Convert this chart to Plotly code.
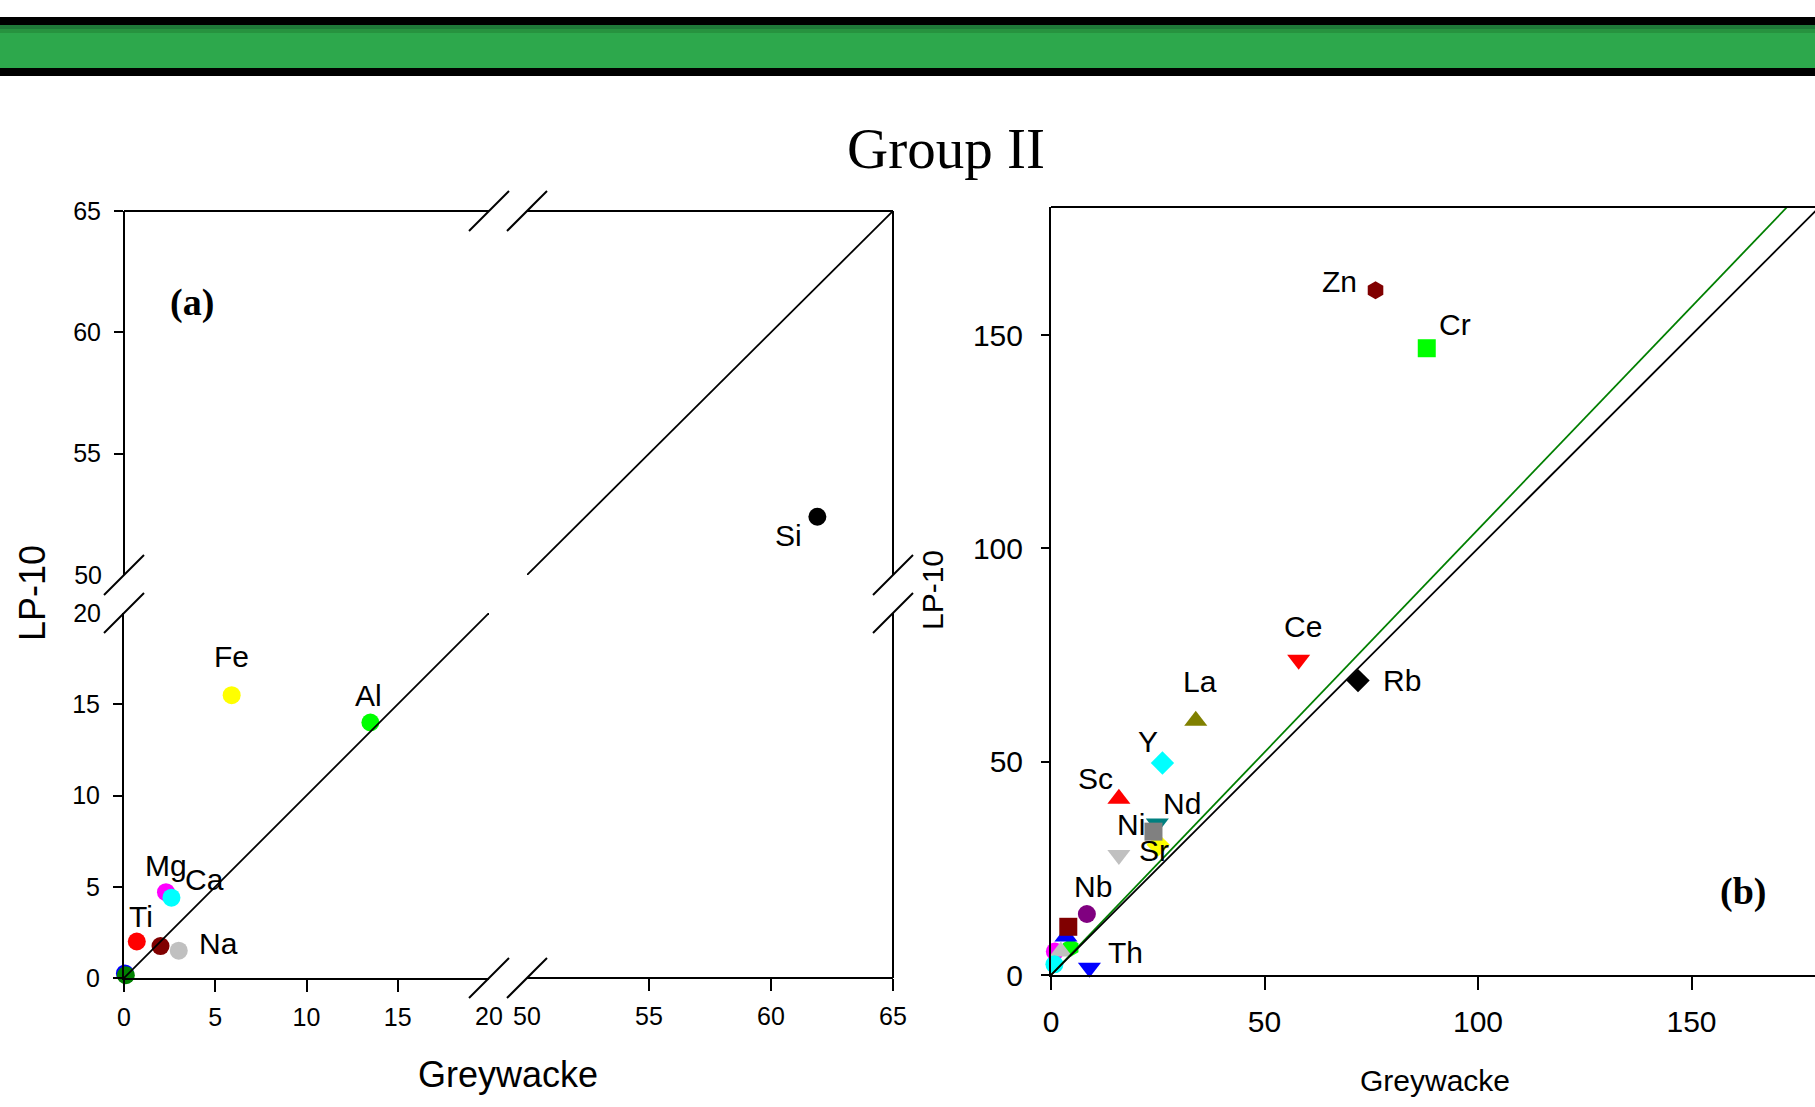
import plotly.graph_objects as go

W, H = 1815, 1107

# ---------------- data ----------------
# Panel (a): major elements, lower segment (0-20)
a_names = ["", "", "Na", "", "Ti", "Mg", "Ca", "Fe", "Al"]
a_x = [0.05, 0.1, 3.0, 2.0, 0.7, 2.3, 2.6, 5.9, 13.5]
a_y = [0.25, 0.15, 1.5, 1.75, 2.0, 4.7, 4.4, 15.5, 14.0]
a_colors = ["#0000FF", "#008000", "#C0C0C0", "#800000", "#FF0000",
            "#FF00FF", "#00FFFF", "#FFFF00", "#00FF00"]

# Panel (a): upper segment (50-65)
a_hi_names = ["Si"]
a_hi_x = [61.9]
a_hi_y = [52.4]
a_hi_colors = ["#000000"]

# 1:1 reference line in panel (a), split by the axis break
a_ref_lo = [0, 20]
a_ref_hi = [50, 65]

# Panel (b): trace elements
b_names = ["Zn", "Cr", "Ce", "Rb", "La", "Y", "Sc", "Nd", "Sr", "Ni", "",
           "Nb", "", "", "", "", "", "", "Th"]
b_x = [76.0, 88.0, 58.0, 71.9, 33.9, 26.1, 15.9, 24.9, 25.1, 24.0, 15.9,
       8.4, 0.9, 4.6, 3.5, 4.05, 2.3, 0.8, 9.0]
b_y = [160.5, 146.9, 73.9, 69.0, 59.6, 49.7, 41.3, 35.5, 30.5, 33.6, 28.1,
       14.3, 5.5, 6.4, 9.0, 11.3, 5.5, 2.5, 1.7]
b_symbols = ["hexagon", "square", "triangle-down", "diamond", "triangle-up",
             "diamond", "triangle-up", "triangle-down", "diamond", "square",
             "triangle-down", "circle", "circle", "hexagon", "triangle-up",
             "square", "triangle-up", "circle", "triangle-down"]
b_colors = ["#800000", "#00FF00", "#FF0000", "#000000", "#808000",
            "#00FFFF", "#FF0000", "#008080", "#FFFF00", "#808080",
            "#C0C0C0", "#800080", "#FF00FF", "#00FF00", "#0000FF",
            "#800000", "#C0C0C0", "#00FFFF", "#0000FF"]

# reference lines in panel (b)
b_ref_x = [0, 180]
b_ref_y = [0, 180]
b_fit_x = [0, 172.4]
b_fit_y = [0, 180]

a_ticks_lo = [0, 5, 10, 15]
a_ticks_hi = [55, 60, 65]
b_ticks = [0, 50, 100, 150]

# ---------------- styling ----------------
a_label_shift = {"Fe": (0, 39), "Al": (-2, 27), "Mg": (0, 27), "Ca": (33, 18),
                 "Ti": (4, 25), "Na": (40, 7), "Si": (-29, -19)}
b_label_shift = {"Zn": (-36, 9), "Cr": (28, 24), "Ce": (4, 33), "Rb": (44, 0),
                 "La": (4, 39), "Y": (-14, 21), "Sc": (-23, 20), "Nd": (25, 20),
                 "Ni": (-22, 7), "Sr": (-4, -6), "Nb": (6, 27), "Th": (36, 15)}
b_sizes = [20 if s.startswith("triangle") else 18 for s in b_symbols]

SANS = "Liberation Sans, Arial, sans-serif"
SERIF = "Liberation Serif, Times New Roman, serif"


def px(x):
    return x / W


def py(y):
    return 1 - y / H


fig = go.Figure()

# panel (a) markers
fig.add_trace(go.Scatter(x=a_x, y=a_y, mode="markers", xaxis="x", yaxis="y",
                         marker=dict(size=18, color=a_colors, symbol="circle",
                                     opacity=1, line=dict(width=0)),
                         cliponaxis=False, hovertext=a_names, showlegend=False))
fig.add_trace(go.Scatter(x=a_hi_x, y=a_hi_y, mode="markers", xaxis="x2", yaxis="y2",
                         marker=dict(size=18, color=a_hi_colors, symbol="circle",
                                     opacity=1, line=dict(width=0)),
                         cliponaxis=False, hovertext=a_hi_names, showlegend=False))
# panel (a) 1:1 lines
fig.add_trace(go.Scatter(x=a_ref_lo, y=a_ref_lo, mode="lines", xaxis="x", yaxis="y",
                         line=dict(color="black", width=1.8), showlegend=False))
fig.add_trace(go.Scatter(x=a_ref_hi, y=a_ref_hi, mode="lines", xaxis="x2", yaxis="y2",
                         line=dict(color="black", width=1.8), showlegend=False))

# panel (b) markers
fig.add_trace(go.Scatter(x=b_x, y=b_y, mode="markers", xaxis="x3", yaxis="y3",
                         marker=dict(size=b_sizes, color=b_colors, symbol=b_symbols,
                                     opacity=1, line=dict(width=0)),
                         cliponaxis=False, hovertext=b_names, showlegend=False))
fig.add_trace(go.Scatter(x=b_fit_x, y=b_fit_y, mode="lines", xaxis="x3", yaxis="y3",
                         line=dict(color="#007F00", width=1.8), showlegend=False))
fig.add_trace(go.Scatter(x=b_ref_x, y=b_ref_y, mode="lines", xaxis="x3", yaxis="y3",
                         line=dict(color="black", width=1.8), showlegend=False))

# empty traces so overlay label axes are created
fig.add_trace(go.Scatter(x=[], y=[], xaxis="x4", yaxis="y", showlegend=False))
fig.add_trace(go.Scatter(x=[], y=[], xaxis="x5", yaxis="y2", showlegend=False))
fig.add_trace(go.Scatter(x=[], y=[], xaxis="x", yaxis="y4", showlegend=False))
fig.add_trace(go.Scatter(x=[], y=[], xaxis="x2", yaxis="y5", showlegend=False))

common = dict(showgrid=False, zeroline=False, showline=True, linecolor="black",
              linewidth=2, ticks="outside", tickwidth=2, tickcolor="black",
              fixedrange=True, automargin=False)
fa = dict(family=SANS, size=25, color="black")
fb = dict(family=SANS, size=30, color="black")
hidden_tick = dict(showgrid=False, zeroline=False, showline=False, ticks="outside",
                   tickwidth=2, tickcolor="rgba(0,0,0,0)", fixedrange=True,
                   automargin=False)

x_lo_dom = [px(124), px(489)]
x_hi_dom = [px(527), px(893)]
y_lo_dom = [py(978), py(613)]
y_hi_dom = [py(575), py(211)]

fig.update_layout(
    template="none",
    width=W, height=H, margin=dict(l=0, r=0, t=0, b=0, pad=0, autoexpand=False),
    paper_bgcolor="white", plot_bgcolor="rgba(0,0,0,0)", showlegend=False,
    xaxis=dict(domain=x_lo_dom, range=[0, 20], anchor="y", tickvals=a_ticks_lo,
               ticklen=12, tickfont=fa, ticklabelstandoff=4, **common),
    yaxis=dict(domain=y_lo_dom, range=[0, 20], anchor="x", tickvals=a_ticks_lo,
               ticklen=9, tickfont=fa, ticklabelstandoff=8, **common),
    xaxis2=dict(domain=x_hi_dom, range=[50, 65], anchor="free", position=py(978),
                tickvals=a_ticks_hi, ticklen=12, tickfont=fa, ticklabelstandoff=4,
                **common),
    yaxis2=dict(domain=y_hi_dom, range=[50, 65], anchor="free", position=px(124),
                tickvals=a_ticks_hi, ticklen=9, tickfont=fa, ticklabelstandoff=8,
                **common),
    xaxis4=dict(overlaying="x", anchor="y", range=[0, 20], tickvals=[20],
                ticklen=12, tickfont=fa, ticklabelstandoff=4, **hidden_tick),
    xaxis5=dict(overlaying="x2", anchor="free", position=py(978), range=[50, 65],
                tickvals=[50], ticklen=12, tickfont=fa, ticklabelstandoff=4,
                **hidden_tick),
    yaxis4=dict(overlaying="y", anchor="x", range=[0, 20], tickvals=[20],
                ticklen=9, tickfont=fa, ticklabelstandoff=8, **hidden_tick),
    yaxis5=dict(overlaying="y2", anchor="free", position=px(124), range=[50, 65],
                tickvals=[50], ticklen=9, tickfont=fa, ticklabelstandoff=8,
                **hidden_tick),
    xaxis3=dict(domain=[px(1051), 1.0], range=[0, (1815 - 1051) / 4.27], anchor="y3",
                tickvals=b_ticks, ticklen=13, tickfont=fb, ticklabelstandoff=6,
                **common),
    yaxis3=dict(domain=[py(975), py(207)], range=[0, 180], anchor="x3",
                tickvals=b_ticks, ticklen=8, tickfont=fb, ticklabelstandoff=12,
                **common),
)

shapes = []
# top banner
shapes.append(dict(type="rect", xref="paper", yref="paper", x0=0, x1=1,
                   y0=py(76), y1=py(17), fillcolor="black", line=dict(width=0),
                   layer="below"))
shapes.append(dict(type="rect", xref="paper", yref="paper", x0=0, x1=1,
                   y0=py(68), y1=py(25), fillcolor="#2DA84C", line=dict(width=0),
                   layer="below"))
shapes.append(dict(type="rect", xref="paper", yref="paper", x0=0, x1=1,
                   y0=py(29), y1=py(25), fillcolor="#207A39", line=dict(width=0),
                   layer="below"))
shapes.append(dict(type="rect", xref="paper", yref="paper", x0=0, x1=1,
                   y0=py(33), y1=py(29), fillcolor="#27933F", line=dict(width=0),
                   layer="below"))


def seg(x0, y0, x1, y1, w=2):
    shapes.append(dict(type="line", xref="paper", yref="paper",
                       x0=px(x0), y0=py(y0), x1=px(x1), y1=py(y1),
                       line=dict(color="black", width=w)))


# panel (a) frame (top and right, broken)
seg(124, 211, 489, 211)
seg(527, 211, 893, 211)
seg(893, 211, 893, 575)
seg(893, 613, 893, 978)
# axis-break slashes
for cx, cy in [(489, 211), (527, 211), (489, 978), (527, 978),
               (124, 575), (124, 613), (893, 575), (893, 613)]:
    seg(cx - 20, cy + 20, cx + 20, cy - 20)
# panel (b) top frame
seg(1051, 207, 1815, 207)

annotations = []
lab_font = dict(family=SANS, size=30, color="black")
for n, x, y in zip(a_names, a_x, a_y):
    if n:
        dx, dy = a_label_shift[n]
        annotations.append(dict(x=x, y=y, xref="x", yref="y", text=n, showarrow=False,
                                xanchor="center", yanchor="middle",
                                xshift=dx, yshift=dy, font=lab_font))
for n, x, y in zip(a_hi_names, a_hi_x, a_hi_y):
    dx, dy = a_label_shift[n]
    annotations.append(dict(x=x, y=y, xref="x2", yref="y2", text=n, showarrow=False,
                            xanchor="center", yanchor="middle",
                            xshift=dx, yshift=dy, font=lab_font))
for n, x, y in zip(b_names, b_x, b_y):
    if n:
        dx, dy = b_label_shift[n]
        annotations.append(dict(x=x, y=y, xref="x3", yref="y3", text=n, showarrow=False,
                                xanchor="center", yanchor="middle",
                                xshift=dx, yshift=dy, font=lab_font))


def pann(x, y, text, font, angle=0):
    annotations.append(dict(x=px(x), y=py(y), xref="paper", yref="paper", text=text,
                            showarrow=False, xanchor="center", yanchor="middle",
                            textangle=angle, font=font))


pann(946, 148, "Group II", dict(family=SERIF, size=57, color="black"))
pann(192, 302, "<b>(a)</b>", dict(family=SERIF, size=38, color="black"))
pann(1743, 891, "<b>(b)</b>", dict(family=SERIF, size=38, color="black"))
pann(32, 593, "LP-10", dict(family=SANS, size=36, color="black"), -90)
pann(508, 1074, "Greywacke", dict(family=SANS, size=36, color="black"))
pann(932, 590, "LP-10", dict(family=SANS, size=30, color="black"), -90)
pann(1435, 1080, "Greywacke", dict(family=SANS, size=30, color="black"))

fig.update_layout(shapes=shapes, annotations=annotations)
fig.write_html("out.html")
